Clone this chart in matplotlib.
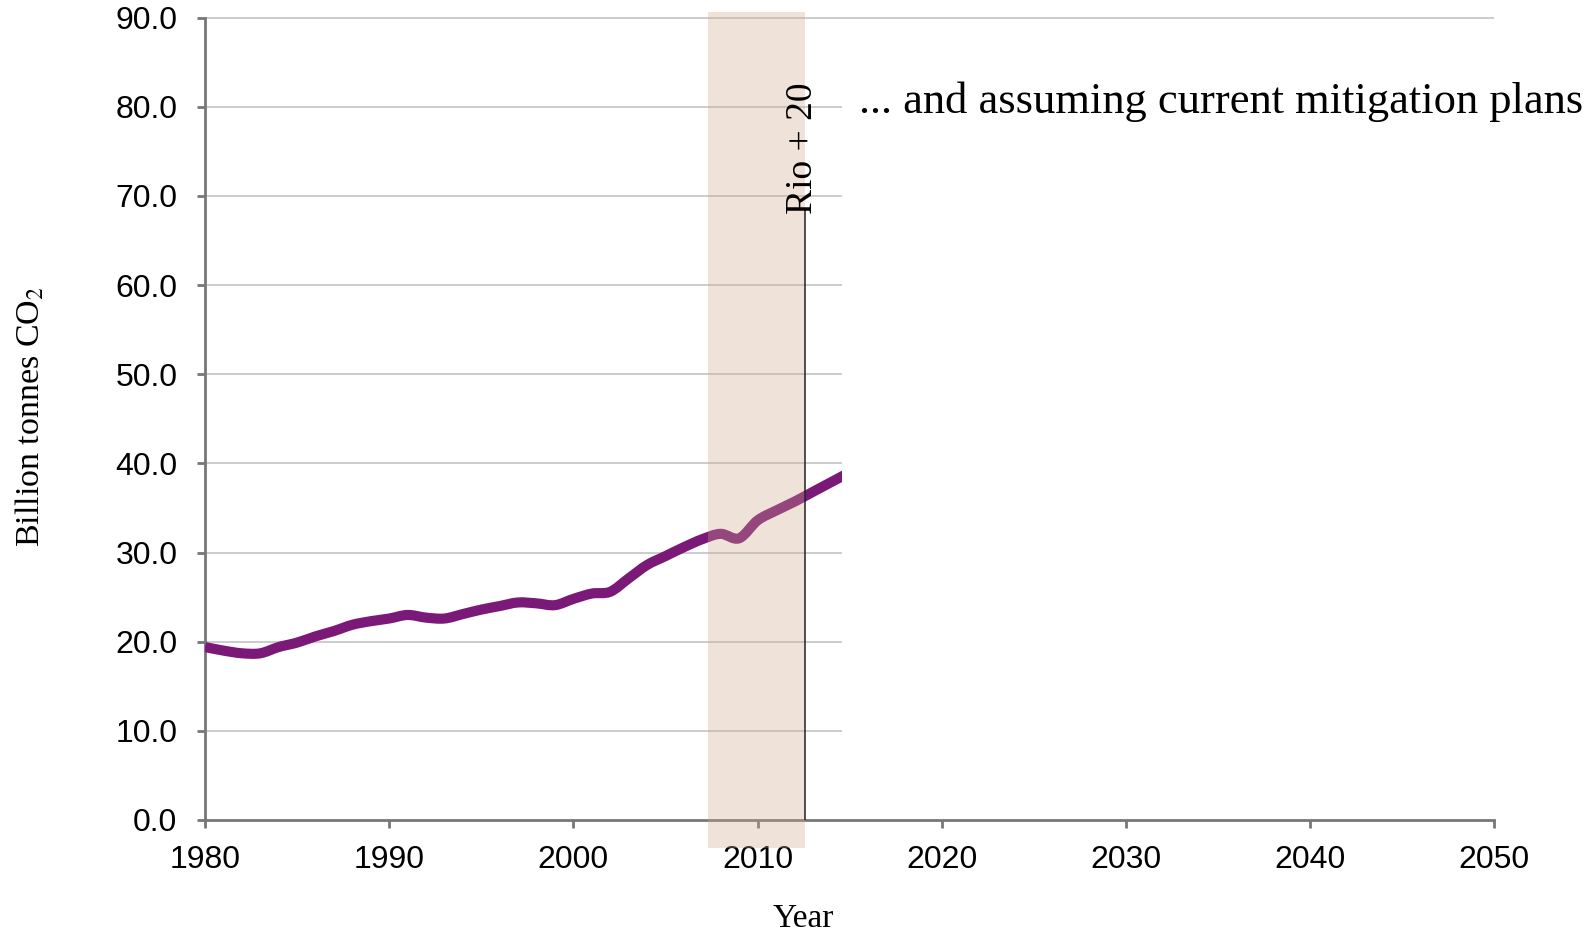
import matplotlib
matplotlib.use("Agg")
import matplotlib.pyplot as plt
from matplotlib.patches import Rectangle, PathPatch
from matplotlib.path import Path
import numpy as np

plt.rcParams['font.family'] = ['Liberation Sans', 'DejaVu Sans']
plt.rcParams['mathtext.fontset'] = 'stix'

# annual emissions, billion tonnes CO2
years = np.arange(1980, 2016)
emissions = [19.4, 19.0, 18.7, 18.7, 19.4, 19.9, 20.6, 21.2, 21.9, 22.3,
             22.6, 23.0, 22.7, 22.6, 23.1, 23.6, 24.0, 24.4, 24.3, 24.1,
             24.8, 25.4, 25.6, 27.1, 28.6, 29.6, 30.6, 31.5, 32.1, 31.6,
             33.6, 34.7, 35.7, 36.8, 37.9, 39.0]

x_ticks = [1980, 1990, 2000, 2010, 2020, 2030, 2040, 2050]
y_ticks = [0, 10, 20, 30, 40, 50, 60, 70, 80, 90]
data_end = 2014.6
shade_span = (2007.3, 2012.6)
rio_year = 2012.6


def smooth_path(xs, ys):
    # catmull-rom style bezier through every point, like a spreadsheet "smoothed line"
    pts = np.column_stack([xs, ys]).astype(float)
    verts = [pts[0]]
    codes = [Path.MOVETO]
    n = len(pts)
    for i in range(n - 1):
        p0 = pts[max(i - 1, 0)]
        p1 = pts[i]
        p2 = pts[i + 1]
        p3 = pts[min(i + 2, n - 1)]
        verts += [p1 + (p2 - p0) / 6, p2 - (p3 - p1) / 6, p2]
        codes += [Path.CURVE4] * 3
    return Path(verts, codes)


fig = plt.figure(figsize=(15.91, 9.32), dpi=100)
ax = fig.add_axes([0.1289, 0.1202, 0.8102, 0.8608])

ax.set_xlim(1980, 2050)
ax.set_ylim(0, 90)

grid_col = '#c8c8c8'
ax.hlines(y_ticks[1:-1], 1980, data_end, color=grid_col, lw=1.3, zorder=1)
ax.hlines(90, 1980, 2050, color=grid_col, lw=1.3, zorder=1, clip_on=False)

curve = PathPatch(smooth_path(years, emissions), facecolor='none',
                  edgecolor='#7a1977', lw=7.3, joinstyle='round',
                  capstyle='butt', zorder=3)
ax.add_patch(curve)
clip = Rectangle((1980, -10), data_end - 1980, 120, transform=ax.transData)
curve.set_clip_path(clip)

for s in ['top', 'right']:
    ax.spines[s].set_visible(False)
for s in ['left', 'bottom']:
    ax.spines[s].set_color('#777777')
    ax.spines[s].set_linewidth(2)

ax.set_xticks(x_ticks)
ax.set_yticks(y_ticks)
ax.set_yticklabels([f'{v:.1f}' for v in y_ticks])
ax.tick_params(axis='both', direction='out', length=6, width=2,
               color='#777777', labelsize=23, labelcolor='black')
ax.tick_params(axis='y', pad=14)
ax.tick_params(axis='x', pad=12)

# shaded period around Rio+20
shade = Rectangle((shade_span[0], -3.1), shade_span[1] - shade_span[0], 93.7,
                  facecolor='#d0a788', alpha=0.32, edgecolor='none',
                  clip_on=False, zorder=5)
ax.add_patch(shade)
ax.vlines(rio_year, 0, 68.5, color='#222222', lw=1.1, zorder=6)

ax.text(2012.45, 75.3, 'Rio + 20', rotation=90, ha='center', va='center',
        family='Liberation Serif', fontsize=27, zorder=7)
ax.text(2015.5, 79.3, '... and assuming current mitigation plans',
        ha='left', va='baseline', family='Liberation Serif', fontsize=32,
        clip_on=False)

fig.text(30 / 1591, 1 - 416 / 932, 'Billion tonnes CO$_2$', rotation=90,
         ha='center', va='center', family='Liberation Serif', fontsize=24.5)
fig.text(803 / 1591, 5 / 932, 'Year', ha='center', va='baseline',
         family='Liberation Serif', fontsize=24)

fig.savefig('out.png', dpi=100)
